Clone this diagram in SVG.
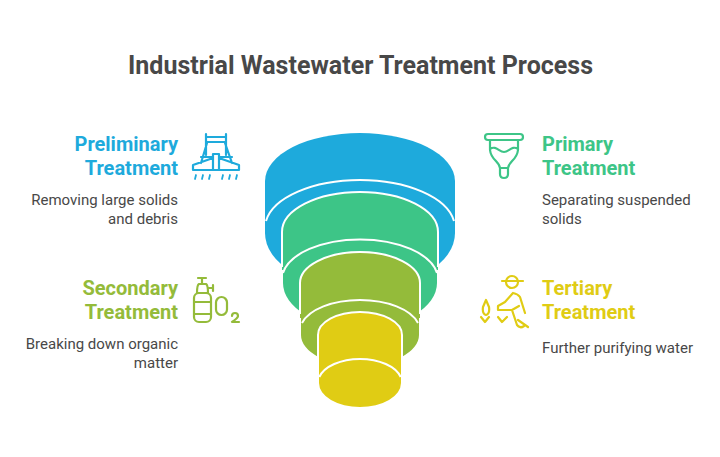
<svg xmlns="http://www.w3.org/2000/svg" width="720" height="457" viewBox="0 0 720 457">
<style>
text{font-family:"Roboto","Liberation Sans",sans-serif}
.t{font-size:25px;font-weight:700;fill:#484848}
.h{font-size:20px;font-weight:700}
.d{font-size:15px;fill:#484848}
.e{text-anchor:end}
.w{fill:none;stroke:#fff;stroke-width:2}
.i{fill:none;stroke-width:2.200;stroke-linecap:round;stroke-linejoin:round}
.blue{fill:#1eaadc}.green{fill:#3dc587}.olive{fill:#94bb3a}.yellow{fill:#e0cc14}
.ib{stroke:#1eaadc}.ig{stroke:#3dc587}.io{stroke:#94bb3a}.iy{stroke:#e0cc14}
</style>
<rect width="720" height="457" fill="#fff"/>
<text class="t" x="128" y="74" textLength="465">Industrial Wastewater Treatment Process</text>
<g id="funnel">
<g id="layer-blue">
<path class="blue" d="M265 181A95 48 0 0 1 455 181V233A95 56 0 0 1 265 233Z"/>
<path class="w" d="M266 221A95 48 0 0 1 454 221"/>
</g>
<g id="layer-green">
<path class="green" d="M282 232A78 40 0 0 1 438 232V270H437V283A77 45 0 0 1 283 283V270H282Z"/>
<path class="w" d="M282 267V232A78 40 0 0 1 438 232V267"/>
<path class="w" d="M283 273A78 40 0 0 1 437 273"/>
</g>
<g id="layer-olive">
<path class="olive" d="M300 283A60 31 0 0 1 420 283V318H419V335A59 31 0 0 1 301 335V318H300Z"/>
<path class="w" d="M300 314V283A60 31 0 0 1 420 283V314"/>
<path class="w" d="M302 323A60 31 0 0 1 418 323"/>
</g>
<g id="layer-yellow">
<path class="yellow" d="M318 335A42 23 0 0 1 402 335V376H401V383A41 24 0 0 1 319 383V376H318Z"/>
<path class="w" d="M318 376V335A42 23 0 0 1 402 335V376"/>
<path class="w" d="M319.300 377A42 24 0 0 1 400.700 377"/>
</g>
</g>
<g id="preliminary">
<text class="h e" x="178" y="151" fill="#1eaadc">Preliminary</text>
<text class="h e" x="178" y="175" fill="#1eaadc">Treatment</text>
<text class="d e" x="178" y="205">Removing large solids</text>
<text class="d e" x="178" y="224">and debris</text>
<g class="i ib">
<path d="M206 134V155M226 134V155M206 137H226M206 142H226M207 143L201 163M225 143L232 163M201 157H213M219 157H232M193 170V165L213 158M239 170V165L219 158M193 170H239M213 154H219V170H213Z"/>
<path d="M196 175l-1 4M203 175l-1 4M210 175l-1 4M223 175l-1 4M230 175l-1 4M237 175l-1 4" stroke-width="1.800"/>
</g>
</g>
<g id="primary">
<text class="h" x="542" y="151" fill="#3dc587">Primary</text>
<text class="h" x="542" y="175" fill="#3dc587">Treatment</text>
<text class="d" x="542" y="205">Separating suspended</text>
<text class="d" x="542" y="224">solids</text>
<g class="i ig">
<rect x="485" y="134" width="38" height="6" rx="3"/>
<path d="M490 140V150C491 160 499 161 500 168H508C509 161 517 160 518 150V140M490 149C496 145 499 152 504 152C509 152 512 145 518 149M500 168V174Q500 178 504 178Q508 178 508 174V168"/>
</g>
</g>
<g id="secondary">
<text class="h e" x="178" y="295" fill="#94bb3a">Secondary</text>
<text class="h e" x="178" y="319" fill="#94bb3a">Treatment</text>
<text class="d e" x="178" y="349">Breaking down organic</text>
<text class="d e" x="178" y="368">matter</text>
<g class="i io">
<path d="M198 278H206M202 278V284M199 284H206Q208 285 208 293H197Q197 285 199 284ZM208 288H213M213 285V291"/>
<rect x="194" y="293" width="17" height="29" rx="5"/>
<path d="M194 302H211M194 314H211"/>
<rect x="216" y="297" width="11" height="18" rx="5.500"/>
<path d="M232 316Q232 313 235 313Q238 313 238 316Q238 318 232 322H239"/>
</g>
</g>
<g id="tertiary">
<text class="h" x="542" y="295" fill="#e0cc14">Tertiary</text>
<text class="h" x="542" y="319" fill="#e0cc14">Treatment</text>
<text class="d" x="542" y="353">Further purifying water</text>
<g class="i iy">
<circle cx="512" cy="282" r="6"/>
<path d="M502 281H523M513 293Q518 294 520 297L525 313M513 293L505 302L498 306L498 310H512L517 325M512 310L519 306M518 320L528 327M517 325Q520 329 524 326M483 307L486 300L489 307Q490 314 486 315Q482 314 483 307ZM481 317L485 322L489 317M498 317L502 322L507 317"/>
</g>
</g>
</svg>
